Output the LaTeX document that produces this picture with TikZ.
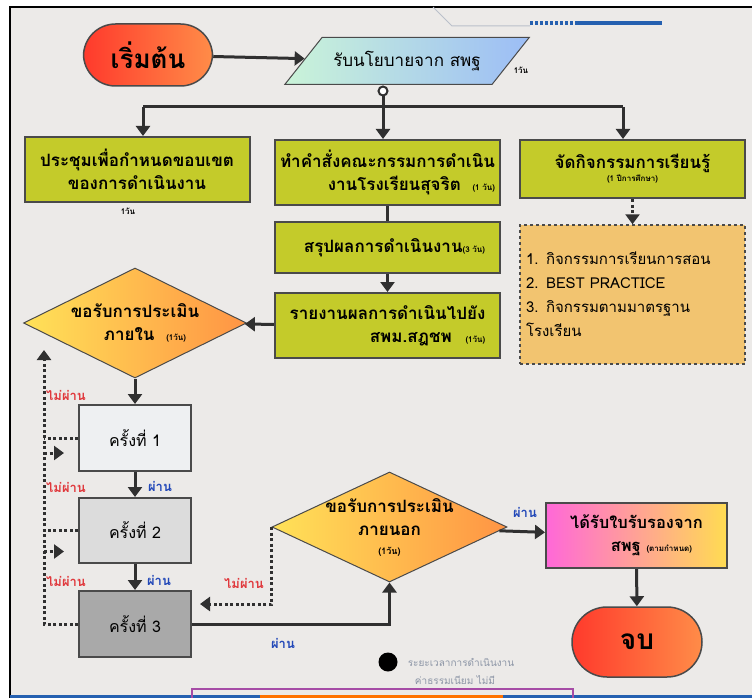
\documentclass[tikz,border=0pt]{standalone}
\usepackage{fontspec}
\setmainfont{Loma}[Script=Thai]
\usetikzlibrary{arrows.meta, shapes.geometric}
\definecolor{panel}{HTML}{ECEAE8}
\definecolor{boxline}{HTML}{4A4A4A}
\definecolor{flowline}{HTML}{303030}
\definecolor{taskgreen}{HTML}{C4CB2A}
\definecolor{noteorange}{HTML}{F2C470}
\definecolor{startred}{HTML}{FF3A2C}
\definecolor{startorange}{HTML}{FF8C48}
\definecolor{evalyellow}{HTML}{FFE258}
\definecolor{evalorange}{HTML}{FF9444}
\definecolor{certpink}{HTML}{FF68D8}
\definecolor{certyellow}{HTML}{FFDC52}
\definecolor{policymint}{HTML}{CAF4D8}
\definecolor{policyblue}{HTML}{9CBDF6}
\definecolor{failred}{HTML}{E0383C}
\definecolor{passblue}{HTML}{2248B8}
\definecolor{legendgrey}{HTML}{8C95A6}
\definecolor{decoblue}{HTML}{2560B0}
\definecolor{firstgrey}{HTML}{EEF0F2}
\definecolor{secondgrey}{HTML}{DCDCDC}
\definecolor{thirdgrey}{HTML}{A9A9A9}

\begin{document}
\begin{tikzpicture}[x = 1pt, y = -1pt]

\tikzset{
terminal/.style = {rectangle, rounded corners = 32pt, draw = boxline, line width = 1.5pt, left color = startred, right color = startorange, font = \fontsize{26}{30}\selectfont\bfseries},
policy/.style = {trapezium, trapezium left angle = 38, trapezium right angle = 142, trapezium stretches = true, draw = boxline, line width = 1pt, left color = policymint, right color = policyblue, minimum width = 245, minimum height = 47, font = \fontsize{17}{20}\selectfont},
task/.style = {rectangle, draw = boxline, line width = 2pt, fill = taskgreen, minimum width = 225, minimum height = 65, font = \fontsize{17}{23}\selectfont\bfseries},
activity/.style = {rectangle, draw = boxline, line width = 1.5pt, dashed, fill = noteorange, minimum width = 225, minimum height = 139, text width = 213, align = left, font = \fontsize{15}{24}\selectfont},
decision/.style = {diamond, draw = boxline, line width = 1pt, left color = evalyellow, right color = evalorange, inner sep = -8pt, aspect = 2, font = \fontsize{17}{23}\selectfont\bfseries, align = center},
attempt/.style = {rectangle, draw = boxline, line width = 2pt, minimum width = 112, minimum height = 66, font = \fontsize{16}{20}\selectfont},
flow/.style = {-{Triangle[length = 10pt, width = 14pt]}, line width = 3pt, draw = flowline},
fail/.style = {-{Triangle[length = 10pt, width = 14pt]}, line width = 3pt, draw = flowline, dash pattern = on 3pt off 2.5pt},
passtext/.style = {text = passblue, font = \fontsize{13}{15}\selectfont\bfseries},
failtext/.style = {text = failred, font = \fontsize{13}{15}\selectfont\bfseries},
daytext/.style = {font = \fontsize{8}{9}\selectfont\bfseries},
legend/.style = {text = legendgrey, font = \fontsize{10}{12}\selectfont},
	}

\useasboundingbox (0, 0) rectangle (752, 698);

% Panel
\fill [white] (0, 0) rectangle (752, 698);
\fill [panel] (10, 7) rectangle (752, 698);
\draw [line width = 2pt] (10, 698) -- (10, 7) -- (752, 7);
\draw [legendgrey!60, line width = 1pt] (433, 7) -- (452, 26) -- (530, 26);
\draw [decoblue, line width = 4pt, dash pattern = on 3pt off 2pt] (530, 23) -- (578, 23);
\draw [decoblue, line width = 4pt] (578, 23) -- (662, 23);
\fill [decoblue] (10, 695) rectangle (752, 698);
\fill [orange!90!red] (260, 695) rectangle (503, 698);
\draw [violet!70, line width = 2pt] (192, 698) -- (192, 689) -- (573, 689) -- (573, 698);

% Start
\node at (148, 55) [terminal, minimum width = 129, minimum height = 62] (start) {เริ่มต้น};
\node at (407, 61) [policy] (policy) {รับนโยบายจาก สพฐ};
\node at (521, 70) [daytext] {1วัน};
\node at (383, 91) [circle, draw = flowline, line width = 2pt, fill = white, inner sep = 0pt, minimum size = 9] (hub) {};
\coordinate (busL) at (143, 107);
\coordinate (busM) at (383, 107);
\coordinate (busR) at (623, 107);

% Tasks
\node at (137, 169.5) [task, align = center] (meet) {ประชุมเพื่อกำหนดขอบเขต\\ของการดำเนินงาน};
\node at (128, 211) [daytext] {1วัน};
\node at (387.5, 172.5) [task, align = right] (order) {ทำคำสั่งคณะกรรมการดำเนิน\\งานโรงเรียนสุจริต \hspace{6pt}{\fontsize{8}{9}\selectfont (1 วัน)}};
\node at (387.5, 247.5) [task, minimum height = 51] (summary) {\hspace{14pt}สรุปผลการดำเนินงาน{\fontsize{8}{9}\selectfont (3 วัน)}};
\node at (387.5, 325.5) [task, align = right] (report) {รายงานผลการดำเนินไปยัง\\สพม.สฎชพ \hspace{8pt}{\fontsize{8}{9}\selectfont (1วัน)}};
\node at (632.5, 169) [task, minimum height = 58, align = center] (learn) {จัดกิจกรรมการเรียนรู้\\[-10pt]{\fontsize{8}{9}\selectfont (1 ปีการศึกษา)}};
\node at (632.5, 294.5) [activity] (plan) {1. กิจกรรมการเรียนการสอน\\2. BEST PRACTICE\\3. กิจกรรมตามมาตรฐาน\\โรงเรียน};

% Internal evaluation
\node at (135, 323) [decision, minimum width = 223, minimum height = 110] (evalin) {ขอรับการประเมิน\\\hspace{20pt}ภายใน \hspace{6pt}{\fontsize{8}{9}\selectfont (1วัน)}};
\node at (135, 438) [attempt, fill = firstgrey] (round1) {ครั้งที่ 1};
\node at (135, 530.5) [attempt, fill = secondgrey, minimum height = 65] (round2) {ครั้งที่ 2};
\node at (135, 624) [attempt, fill = thirdgrey] (round3) {ครั้งที่ 3};
\coordinate (loop) at (44, 350);

% External evaluation
\node at (389.5, 527) [decision, minimum width = 235, minimum height = 110, inner sep = -14pt] (evalout) {ขอรับการประเมิน\\ภายนอก\\[-4pt]{\fontsize{9}{10}\selectfont (1วัน)}};
\node at (636.5, 535.5) [rectangle, draw = boxline, line width = 2pt, left color = certpink, right color = certyellow, minimum width = 181, minimum height = 65, align = center, font = \fontsize{16.5}{23}\selectfont\bfseries] (cert) {ได้รับใบรับรองจาก\\\hspace{30pt}สพฐ {\fontsize{8}{9}\selectfont (ตามกำหนด)}};
\node at (637, 642) [terminal, minimum width = 130, minimum height = 70, rounded corners = 35pt, font = \fontsize{28}{32}\selectfont\bfseries] (finish) {จบ};

% Flow
\draw [flow] (start) -- (policy);
\draw [line width = 3pt, flowline] (hub) -- (busM);
\draw [line width = 3pt, flowline] (busL) -- (busR);
\draw [flow] (busL) -- (busL |- meet.north);
\draw [flow] (busM) -- (busM |- order.north);
\draw [flow] (busR) -- (busR |- learn.north);
\draw [line width = 3pt, flowline] (order) -- (summary);
\draw [flow] (summary) -- (report);
\draw [fail] (learn) -- (plan);
\draw [flow] (report) -- (evalin);
\draw [flow] (evalin) -- (round1);
\draw [flow] (round1) -- (round2);
\draw [flow] (round2) -- (round3);
\draw [flow] (round3) -| (evalout);
\draw [flow] (evalout) -- (cert);
\draw [flow] (cert) -- (finish);

% Not passed
\draw [fail] (round3.west) -| (loop);
\draw [fail, -] (round1.west) -- (round1.west -| loop);
\draw [fail, -] (round2.west) -- (round2.west -| loop);
\draw [fail] ([yshift = -15pt] round1.west -| loop) -- ++(20, 0);
\draw [fail] ([yshift = -21pt] round2.west -| loop) -- ++(20, 0);
\draw [fail] (evalout.west) |- ([xshift = 8pt, yshift = 20pt] round3.east);

% Labels
\node at (66, 395) [failtext] {ไม่ผ่าน};
\node at (66, 487) [failtext] {ไม่ผ่าน};
\node at (66, 581) [failtext] {ไม่ผ่าน};
\node at (244, 583) [failtext] {ไม่ผ่าน};
\node at (160, 486) [passtext] {ผ่าน};
\node at (159, 580) [passtext] {ผ่าน};
\node at (283, 643) [passtext] {ผ่าน};
\node at (525, 512) [passtext] {ผ่าน};

% Legend
\node at (388, 662) [circle, fill = black, inner sep = 0pt, minimum size = 19] (dot) {};
\node at (461, 662) [legend] {ระยะเวลาการดำเนินงาน};
\node at (455, 680) [legend] {ค่าธรรมเนียม ไม่มี};

\end{tikzpicture}
\end{document}
